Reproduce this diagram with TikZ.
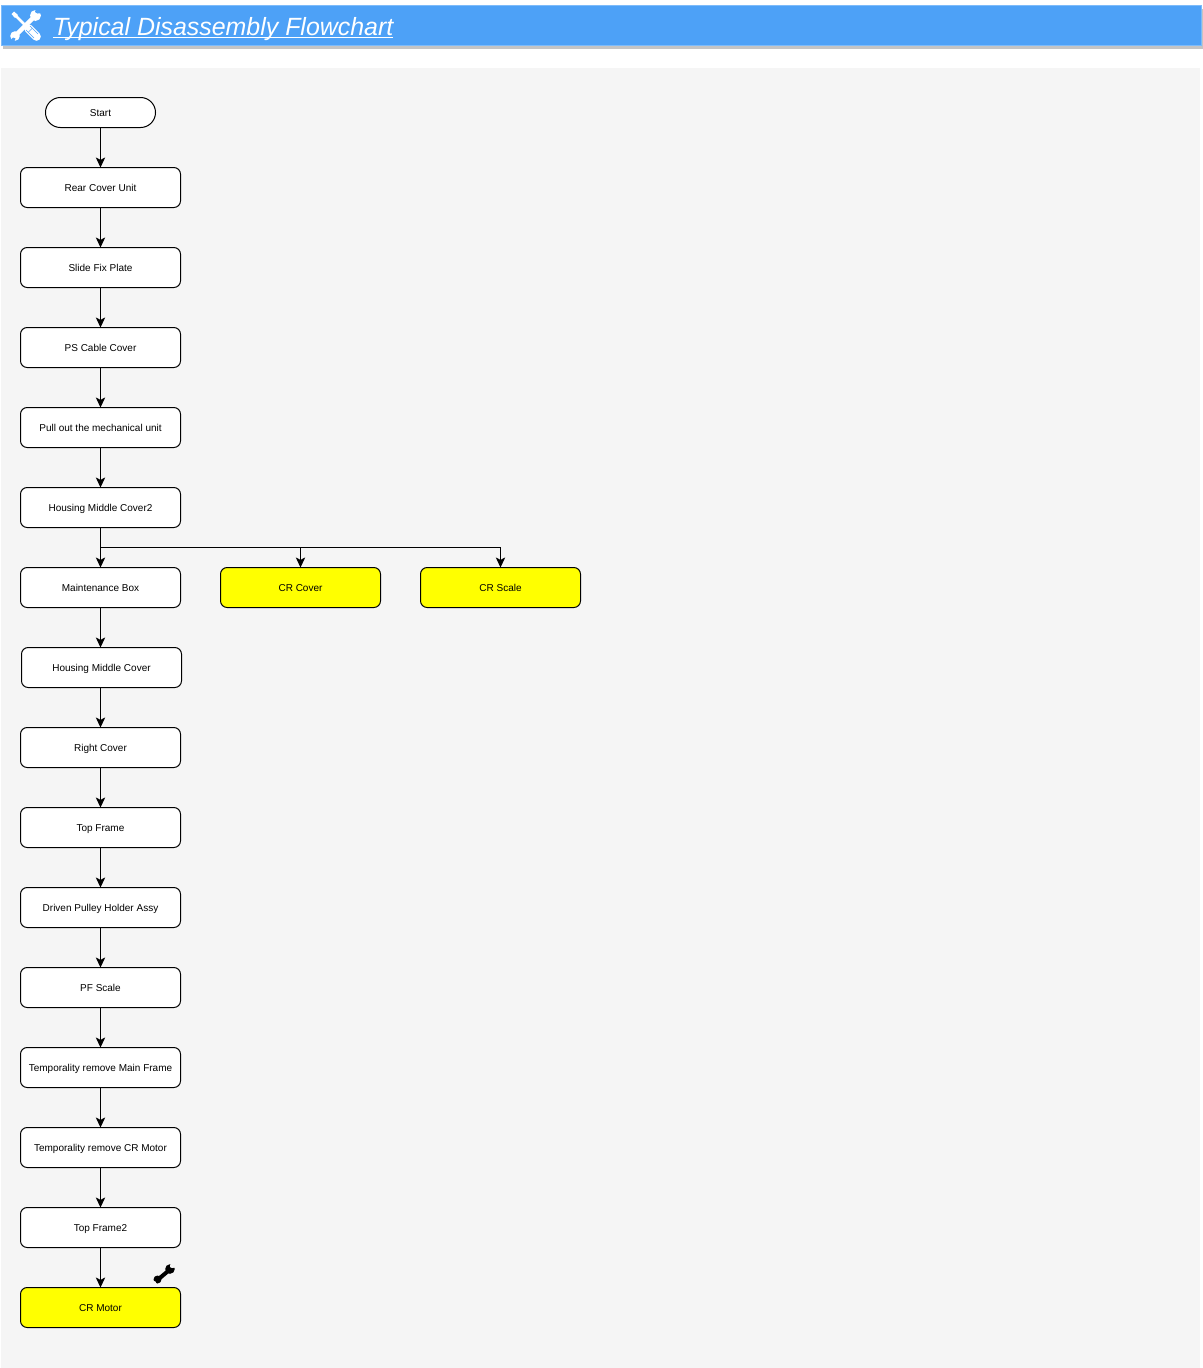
\documentclass[tikz,border=0pt]{standalone}
\usepackage{fontspec}
\setmainfont{Liberation Sans}
\usetikzlibrary{arrows.meta}
\definecolor{hdr}{RGB}{77,161,247}
\definecolor{hdredge}{RGB}{125,187,250}
\definecolor{hdrshadow}{RGB}{196,196,196}
\definecolor{panel}{RGB}{245,245,245}
\definecolor{pureyellow}{RGB}{255,255,0}
\tikzset{
  flowbox/.style={draw=black,line width=0.75pt,fill=white,rounded corners=5pt,minimum width=120pt,minimum height=30pt,inner sep=0pt,outer sep=0pt,font=\fontsize{7.5pt}{9pt}\selectfont,text height=7pt,text depth=1.6pt},
  hilite/.style={flowbox,fill=pureyellow},
  terminal/.style={flowbox,minimum width=82.5pt,minimum height=22.5pt,rounded corners=11.2pt},
  link/.style={line width=0.75pt,-{Stealth[length=7.5pt,width=7pt,inset=1.8pt]}},
  titleline/.style={white,line width=1.1pt}
}
\begin{document}
\begin{tikzpicture}[x=0.75pt,y=-0.75pt]
\useasboundingbox (0,0) rectangle (1203,1368);
\fill[white] (0,0) rectangle (1203,1368);
% header
\fill[hdrshadow] (3,9) rectangle (1203,48.5);
\fill[hdr,draw=hdredge,line width=0.75pt] (1,5.5) rectangle (1201,45.5);
\node[anchor=base west,inner sep=0pt,outer sep=0pt,text=white,font=\fontsize{18.7pt}{22pt}\selectfont\itshape] (title) at (53,35) {Typical Disassembly Flowchart};
\draw[titleline] ([yshift=-2pt]title.base west) -- ([yshift=-2pt]title.base east);
% header icon: crossed wrench and screwdriver
\draw[white,line width=3.2pt] (17,34) -- (35,16);
\fill[white] (15,36) circle (4.8);
\fill[white] (35.5,15.5) circle (5.5);
\fill[hdr] (37.5,13.5) -- (42,13) -- (42,7) -- (36,8) -- (35,12) -- cycle;
\fill[hdr] (13,37.5) -- (10,41) -- (14,42) -- (15.5,38.5) -- cycle;
\draw[white,line width=2pt] (14,14) -- (27,27);
\fill[white] (11.5,14) -- (14,11.5) -- (18,15) -- (15,18) -- cycle;
\draw[white,line width=6.5pt,line cap=round] (28.5,28.5) -- (36.5,36.5);
\draw[hdr,line width=0.5pt] (30,26) -- (38,34);
\draw[hdr,line width=0.5pt] (26,30) -- (34,38);
\draw[hdr,line width=0.5pt] (32,28.5) -- (28.5,32);
% panel
\fill[panel] (1,68) rectangle (1200,1368);
% nodes
\node[terminal] (start) at (100.5,112.5) {Start};
\node[flowbox] (rear) at (100.5,187.5) {Rear Cover Unit};
\node[flowbox] (slide) at (100.5,267.5) {Slide Fix Plate};
\node[flowbox] (pscable) at (100.5,347.5) {PS Cable Cover};
\node[flowbox] (pull) at (100.5,427.5) {Pull out the mechanical unit};
\node[flowbox] (hmc2) at (100.5,507.5) {Housing Middle Cover2};
\node[flowbox] (maint) at (100.5,587.5) {Maintenance Box};
\node[hilite] (crcover) at (300.5,587.5) {CR Cover};
\node[hilite] (crscale) at (500.5,587.5) {CR Scale};
\node[flowbox] (hmc) at (101.5,667.5) {Housing Middle Cover};
\node[flowbox] (right) at (100.5,747.5) {Right Cover};
\node[flowbox] (top) at (100.5,827.5) {Top Frame};
\node[flowbox] (driven) at (100.5,907.5) {Driven Pulley Holder Assy};
\node[flowbox] (pf) at (100.5,987.5) {PF Scale};
\node[flowbox] (tmain) at (100.5,1067.5) {Temporality remove Main Frame};
\node[flowbox] (tmotor) at (100.5,1147.5) {Temporality remove CR Motor};
\node[flowbox] (top2) at (100.5,1227.5) {Top Frame2};
\node[hilite] (motor) at (100.5,1307.5) {CR Motor};
% connectors
\draw[link] (start) -- (rear);
\draw[link] (rear) -- (slide);
\draw[link] (slide) -- (pscable);
\draw[link] (pscable) -- (pull);
\draw[link] (pull) -- (hmc2);
\draw[link] (hmc2) -- (maint);
\coordinate (bus) at (100.5,547.5);
\draw[link] (bus) -| (crcover.north);
\draw[link] (bus) -| (crscale.north);
\draw[link] (maint.south) -- (maint.south |- hmc.north);
\draw[link] (maint.south |- hmc.south) -- (right.north);
\draw[link] (right) -- (top);
\draw[link] (top) -- (driven);
\draw[link] (driven) -- (pf);
\draw[link] (pf) -- (tmain);
\draw[link] (tmain) -- (tmotor);
\draw[link] (tmotor) -- (top2);
\draw[link] (top2) -- (motor);
% wrench icon
\draw[black,line width=3pt] (158,1279.5) -- (170,1269.5);
\fill[black] (157.5,1279.5) circle (4);
\fill[black] (170,1269) circle (4.8);
\fill[panel] (172,1268) -- (178,1267) -- (175,1262) -- (170.5,1263) -- (170,1267) -- cycle;
\fill[panel] (155.5,1281.5) -- (152,1280.5) -- (152,1285) -- (157,1285.5) -- cycle;
\end{tikzpicture}
\end{document}
